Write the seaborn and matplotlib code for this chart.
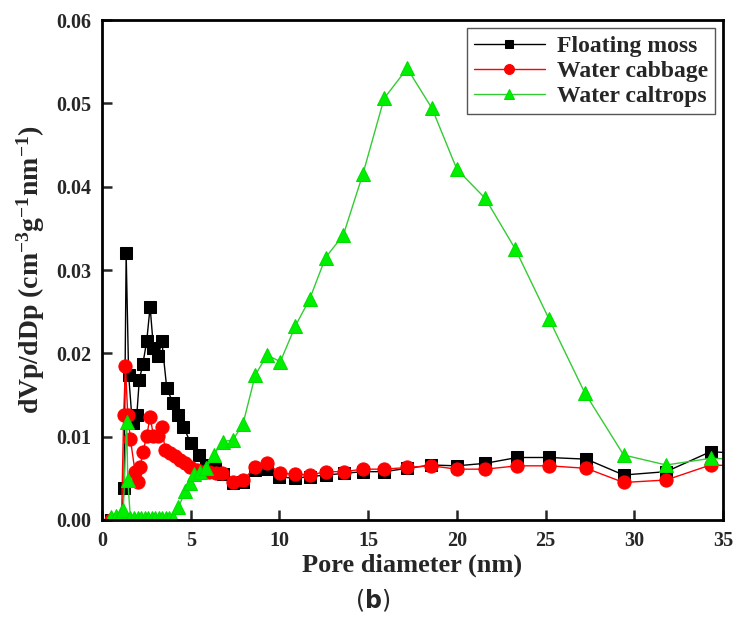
import matplotlib
matplotlib.use("Agg")
import matplotlib.pyplot as plt
import seaborn as sns

# Floating moss (black squares)
x_moss = [0.5, 0.8, 1.1, 1.24, 1.36, 1.5, 1.68, 1.77, 1.96, 2.1, 2.3, 2.52, 2.71, 2.9, 3.18,
          3.37, 3.65, 3.99, 4.31, 4.59, 5.0, 5.44, 5.87, 6.38, 6.8, 7.4, 7.97, 8.64, 9.3, 9.95,
          10.86, 11.7, 12.65, 13.66, 14.7, 15.9, 17.2, 18.56, 20.0, 21.6, 23.4, 25.2, 27.3,
          29.4, 31.8, 34.3, 37.5]
y_moss = [0.0, 0.0, 0.0, 0.0038, 0.032, 0.0174, 0.0124, 0.0116, 0.0126, 0.0168, 0.0187,
          0.0215, 0.0256, 0.0206, 0.0197, 0.0215, 0.0158, 0.0141, 0.0126, 0.0112, 0.0092,
          0.0078, 0.0066, 0.0061, 0.0055, 0.0044, 0.0045, 0.006, 0.0061, 0.0052, 0.005,
          0.0052, 0.0054, 0.0056, 0.0058, 0.0058, 0.0062, 0.0066, 0.0065, 0.0068, 0.0075,
          0.0075, 0.0073, 0.0054, 0.0058, 0.0082, 0.0078]

# Water cabbage (red circles)
x_cabbage = [0.5, 0.8, 1.1, 1.22, 1.32, 1.45, 1.6, 1.86, 2.0, 2.15, 2.3, 2.52, 2.71, 2.9,
             3.18, 3.37, 3.56, 3.84, 4.1, 4.4, 4.7, 4.97, 5.35, 5.7, 6.05, 6.4, 6.75, 7.4,
             7.97, 8.64, 9.3, 10.05, 10.86, 11.7, 12.65, 13.66, 14.7, 15.9, 17.2, 18.56,
             20.0, 21.6, 23.4, 25.2, 27.3, 29.4, 31.8, 34.3, 37.5]
y_cabbage = [0.0, 0.0, 0.0, 0.0126, 0.0185, 0.0126, 0.0097, 0.0058, 0.0046, 0.0064, 0.0081,
             0.0101, 0.0124, 0.0101, 0.0101, 0.0112, 0.0084, 0.008, 0.0077, 0.0072, 0.0068,
             0.0064, 0.006, 0.0058, 0.0058, 0.0056, 0.0056, 0.0046, 0.0048, 0.0064, 0.0068,
             0.0056, 0.0055, 0.0054, 0.0058, 0.0058, 0.0061, 0.0061, 0.0063, 0.0065, 0.0061,
             0.0061, 0.0065, 0.0065, 0.0062, 0.0045, 0.0048, 0.0066, 0.0064]

# Water caltrops (green triangles)
x_caltrops = [0.5, 0.8, 1.05, 1.2, 1.39, 1.45, 1.6, 1.8, 2.0, 2.2, 2.4, 2.6, 2.8, 3.0, 3.2,
              3.4, 3.6, 3.8, 4.0, 4.31, 4.69, 4.97, 5.16, 5.5, 5.87, 6.29, 6.8, 7.38, 7.94,
              8.64, 9.3, 10.05, 10.9, 11.7, 12.6, 13.6, 14.7, 15.9, 17.2, 18.6, 20.0, 21.6,
              23.3, 25.2, 27.2, 29.4, 31.8, 34.3, 37.5]
y_caltrops = [0.0003, 0.0005, 0.0008, 0.0012, 0.0118, 0.0048, 0.0002, 0.0002, 0.0002, 0.0002,
              0.0002, 0.0002, 0.0002, 0.0002, 0.0002, 0.0002, 0.0002, 0.0002, 0.0002, 0.0015,
              0.0035, 0.0044, 0.0055, 0.0058, 0.0062, 0.0078, 0.0094, 0.0096, 0.0115, 0.0174,
              0.0198, 0.019, 0.0233, 0.0265, 0.0315, 0.0342, 0.0415, 0.0506, 0.0542, 0.0494,
              0.0421, 0.0386, 0.0325, 0.0241, 0.0153, 0.0078, 0.0066, 0.0074, 0.0072]

sns.set_style("white")
plt.rcParams['font.family'] = ['Liberation Serif', 'DejaVu Serif']
plt.rcParams['font.weight'] = 'bold'
plt.rcParams['mathtext.fontset'] = 'custom'
plt.rcParams['mathtext.rm'] = 'Liberation Serif:bold'
plt.rcParams['mathtext.it'] = 'Liberation Serif:bold'
plt.rcParams['mathtext.bf'] = 'Liberation Serif:bold'

fig = plt.figure(figsize=(7.34, 6.28), dpi=100)
ax = fig.add_axes([0.139, 0.172, 0.846, 0.796])

sns.lineplot(x=x_moss, y=y_moss, ax=ax, color='black', lw=1.0, marker='s',
             markersize=8.5, markeredgecolor='black', sort=False, estimator=None,
             label='Floating moss')
sns.lineplot(x=x_cabbage, y=y_cabbage, ax=ax, color='#ff0000', lw=1.0, marker='o',
             markersize=9.5, markeredgecolor='#ff0000', sort=False, estimator=None,
             label='Water cabbage')
sns.lineplot(x=x_caltrops, y=y_caltrops, ax=ax, color='#33cc33', lw=1.0, marker='^',
             markersize=10.5, markerfacecolor='#00ee00', markeredgecolor='#00dd00',
             sort=False, estimator=None, label='Water caltrops')

ax.set_xlim(0, 35)
ax.set_ylim(0, 0.06)
ax.set_xticks([0, 5, 10, 15, 20, 25, 30, 35])
ax.set_yticks([0.0, 0.01, 0.02, 0.03, 0.04, 0.05, 0.06])
ax.set_yticklabels(['0.00', '0.01', '0.02', '0.03', '0.04', '0.05', '0.06'])
ax.tick_params(direction='in', length=7, width=1.8, labelsize=14.5, pad=8,
               top=False, right=False, bottom=True, left=True)
for s in ax.spines.values():
    s.set_linewidth(2.0)
    s.set_color('black')

ax.set_xlabel('Pore diameter (nm)', fontsize=19, fontweight='bold', labelpad=2)
ax.set_ylabel(r'dVp/dDp (cm$^{-3}$g$^{-1}$nm$^{-1}$)', fontsize=20, fontweight='bold',
              labelpad=6)

leg = ax.legend(loc='upper right', fontsize=17, frameon=True, fancybox=False,
                edgecolor='#555555', framealpha=1, handlelength=3.0, handletextpad=0.5,
                markerscale=0.75, borderaxespad=0.35, labelspacing=0.15, borderpad=0.3)
leg.get_frame().set_linewidth(1.0)
for t in leg.get_texts():
    t.set_fontweight('bold')

# panel tag below the axes
fig.text(0.507, 0.045, r'($\mathbf{b}$)', ha='center', va='center', fontsize=17,
         family='DejaVu Sans', fontweight='normal', math_fontfamily='dejavusans')

fig.savefig('out.png', dpi=100)
